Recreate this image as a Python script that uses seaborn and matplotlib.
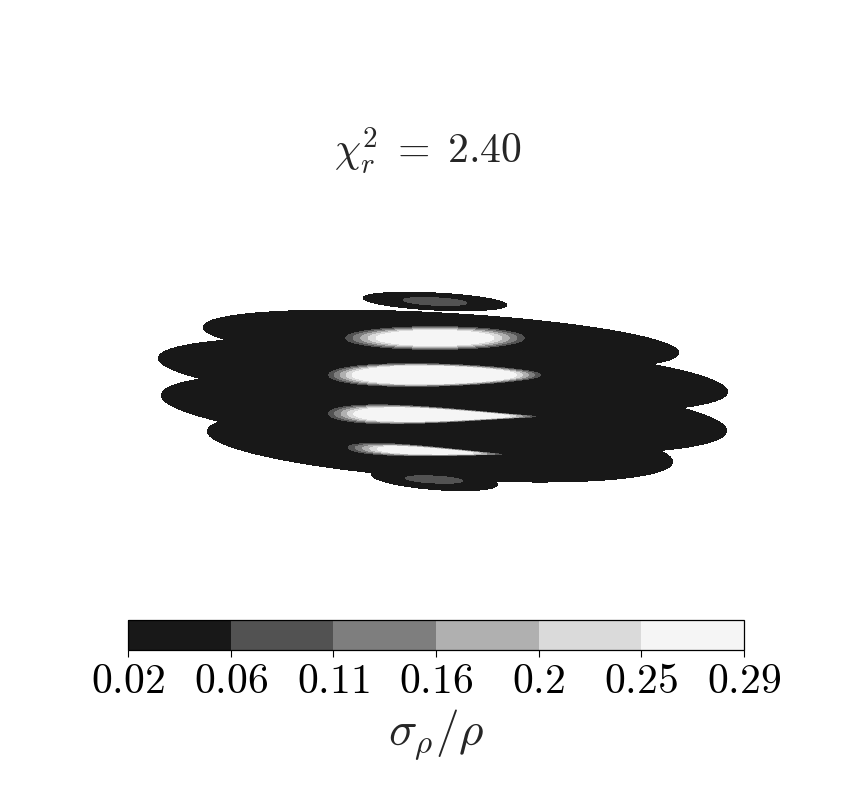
import numpy as np
import matplotlib
matplotlib.use("Agg")
import matplotlib.pyplot as plt
import seaborn as sns

# ---------------- data (image-pixel units, y downward) -------------
# outer low-uncertainty layers (union gives the dark region)
layer_cx = [435.0, 441.0, 443.0, 444.0, 440.0, 434.5]
layer_cy = [301.5, 340.0, 375.0, 413.0, 446.5, 479.5]
layer_a = [72.0, 238.0, 285.0, 283.0, 233.0, 63.0]
layer_b = [8.5, 27.0, 34.0, 37.0, 32.0, 10.0]
layer_slope = [0.05, 0.055, 0.06, 0.064, 0.067, 0.08]
layer_value = 0.04

# inner high-uncertainty cores
core_cx = [435.0, 435.0, 434.5, 432.0, 425.0, 434.0]
core_cy = [301.5, 338.0, 375.0, 415.0, 451.0, 479.5]
core_a = [33.2, 93.4, 109.0, 107.0, 81.0, 30.0]
core_b = [3.85, 11.9, 14.3, 14.5, 9.0, 3.6]
core_slope = [0.05, 0.0, 0.0, 0.015, 0.045, 0.05]
core_taper = [0.0, 0.0, 0.4, 0.9, 0.9, 0.0]
core_ramp = [0.45, 0.45, 0.30, 0.33, 0.50, 0.45]
core_peak = [0.10, 0.29, 0.29, 0.29, 0.29, 0.10]

levels = [0.02, 0.065, 0.11, 0.155, 0.2, 0.245, 0.29]
tick_labels = ["0.02", "0.06", "0.11", "0.16", "0.2", "0.25", "0.29"]
chi2_r = 2.40

# ---------------- style ----------------
sns.set_theme(style="white")
plt.rcParams["font.family"] = ["DejaVu Sans"]
plt.rcParams["mathtext.fontset"] = "cm"
cmap = sns.color_palette("Greys_r", as_cmap=True)

# ---------------- field ----------------
xs = np.arange(140, 745, 0.5)
ys = np.arange(280, 500, 0.5)
X, Y = np.meshgrid(xs, ys)


def rot_uv(cx, cy, a, b, slope):
    th = np.arctan(slope)
    c, s = np.cos(th), np.sin(th)
    dx, dy = X - cx, Y - cy
    return (dx * c + dy * s) / a, (-dx * s + dy * c) / b


rmin = np.full(X.shape, np.inf)
for cx, cy, a, b, sl in zip(layer_cx, layer_cy, layer_a, layer_b, layer_slope):
    u, v = rot_uv(cx, cy, a, b, sl)
    rmin = np.minimum(rmin, np.sqrt(u ** 2 + v ** 2))
Z = 0.02 + (layer_value - 0.02) * np.clip((1 - rmin) * 12, -1, 1)

for cx, cy, a, b, sl, tp, rp, pk in zip(core_cx, core_cy, core_a, core_b,
                                         core_slope, core_taper, core_ramp,
                                         core_peak):
    u, v = rot_uv(cx, cy, a, b, sl)
    w = np.clip(1 - tp * (1 + u) / 2, 0.03, None)
    r = np.sqrt(u ** 2 + (v / w) ** 2)
    val = np.minimum(pk, layer_value + (0.29 - layer_value) / rp * (1 - r))
    Z = np.maximum(Z, val)

# ---------------- figure ----------------
W, H = 850, 800
fig = plt.figure(figsize=(W / 100, H / 100), dpi=100)
ax = fig.add_axes([128 / W, 1 - 560 / H, 616 / W, 360 / H])
cs = ax.contourf(X, Y, Z, levels=levels, cmap=cmap)
ax.set_xlim(128, 744)
ax.set_ylim(560, 200)
ax.axis("off")

fig.text(428 / W, 1 - 163 / H, r"$\chi_r^2 \;=\; %.2f$" % chi2_r,
         ha="center", va="baseline", fontsize=30)

cax = fig.add_axes([128 / W, 1 - 650 / H, 616 / W, 30 / H])
cb = fig.colorbar(cs, cax=cax, orientation="horizontal", ticks=levels)
cb.ax.set_xticklabels(["$%s$" % t for t in tick_labels], fontsize=30)
cb.ax.tick_params(axis="x", direction="out", length=5, width=0.8,
                  bottom=True, pad=2, colors="black")
cb.outline.set_linewidth(0.9)
cb.outline.set_edgecolor("black")
cb.set_label(r"$\sigma_\rho/\rho$", fontsize=34, labelpad=4)

fig.savefig("out.png", dpi=100)
